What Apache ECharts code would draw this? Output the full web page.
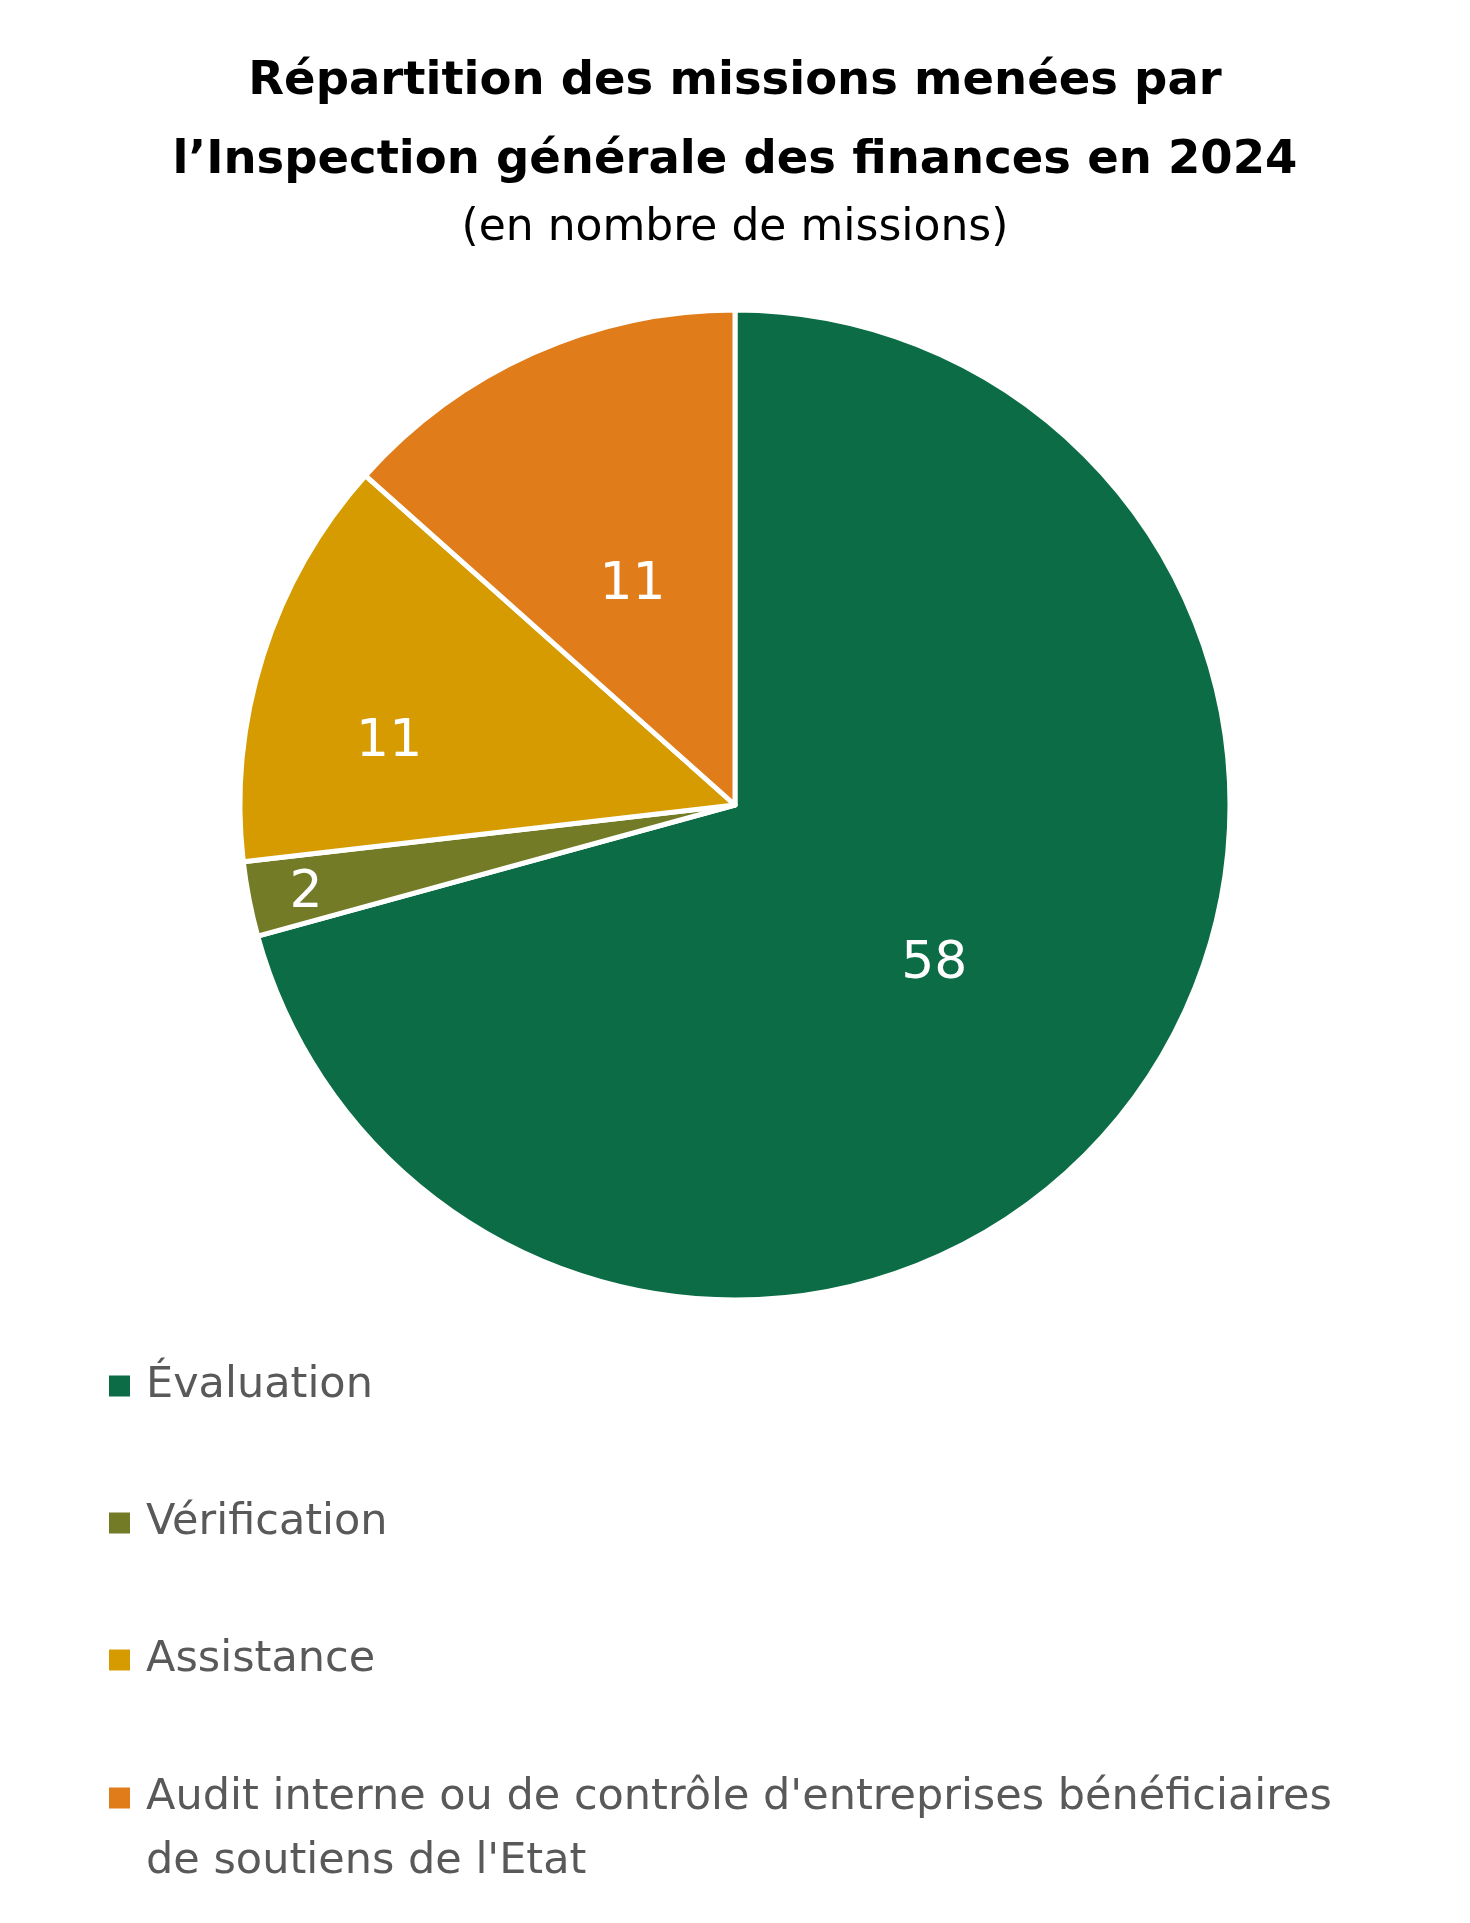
<!DOCTYPE html>
<html>
<head>
<meta charset="utf-8">
<script src="https://cdn.jsdelivr.net/npm/echarts@6/dist/echarts.min.js"></script>
<style>
html,body{margin:0;padding:0;background:#fff;}
#chart{width:1470px;height:1923px;}
</style>
</head>
<body>
<div id="chart"></div>
<script>
const categories = ["Évaluation", "Vérification", "Assistance", "Audit interne ou de contrôle d'entreprises bénéficiaires\nde soutiens de l'Etat"];
const values = [58, 2, 11, 11];
const titleText = "Répartition des missions menées par\nl\u2019Inspection générale des finances en 2024";
const subtitleText = "(en nombre de missions)";

const colors = ["#0b6c45", "#737b27", "#d59b00", "#e07c1a"];
const labelShiftX = [0, -183, -107, 0];
const labelShiftY = [8, 41, 13, 9];
const FONT = "DejaVu Sans";

const chart = echarts.init(document.getElementById('chart'), null, {renderer: 'canvas'});

const pieData = categories.map((c, i) => ({ name: c, value: values[i], itemStyle: { color: colors[i] } }));

const richT = { t: { fontFamily: FONT, fontSize: 43, color: '#595959', lineHeight: 64 } };

chart.setOption({
  animation: false,
  backgroundColor: '#ffffff',
  title: [
    {
      text: titleText, left: 735, top: 43, padding: 0,
      textAlign: 'center',
      textStyle: { fontFamily: FONT, fontWeight: 'bold', fontSize: 46.5, lineHeight: 78.5, color: '#000000' }
    },
    {
      text: subtitleText, left: 735, top: 204, padding: 0,
      textAlign: 'center',
      textStyle: { fontFamily: FONT, fontWeight: 'normal', fontSize: 44, lineHeight: 50, color: '#000000' }
    }
  ],
  legend: [
    {
      data: categories.slice(0, 3), orient: 'vertical', left: 109, top: 1354, padding: 0,
      itemGap: 73, itemWidth: 21, itemHeight: 21, icon: 'rect',
      itemStyle: { borderWidth: 0 },
      selectedMode: false,
      textStyle: { fontFamily: FONT, fontSize: 43, color: '#595959', lineHeight: 64, padding: [0, 0, 0, 11] }
    },
    {
      data: categories.slice(3), orient: 'vertical', left: 109, top: 1702, padding: 0,
      itemWidth: 21, itemHeight: 21, icon: 'rect',
      itemStyle: { borderWidth: 0 },
      selectedMode: false,
      formatter: name => '{t|' + name + '}',
      textStyle: { fontFamily: FONT, fontSize: 43, color: '#595959', lineHeight: 64,
        padding: [64, 0, 0, 11], rich: richT }
    }
  ],
  series: [{
    type: 'pie',
    center: [735, 805],
    radius: [0, 495],
    startAngle: 90,
    clockwise: true,
    avoidLabelOverlap: false,
    silent: true,
    itemStyle: { borderColor: '#ffffff', borderWidth: 5 },
    label: {
      show: true, position: 'inside', formatter: '{c}',
      fontFamily: FONT, fontSize: 52, color: '#ffffff', fontWeight: 'normal'
    },
    labelLine: { show: false },
    labelLayout: function (params) {
      return { dx: labelShiftX[params.dataIndex], dy: labelShiftY[params.dataIndex] };
    },
    data: pieData
  }]
});
</script>
</body>
</html>
